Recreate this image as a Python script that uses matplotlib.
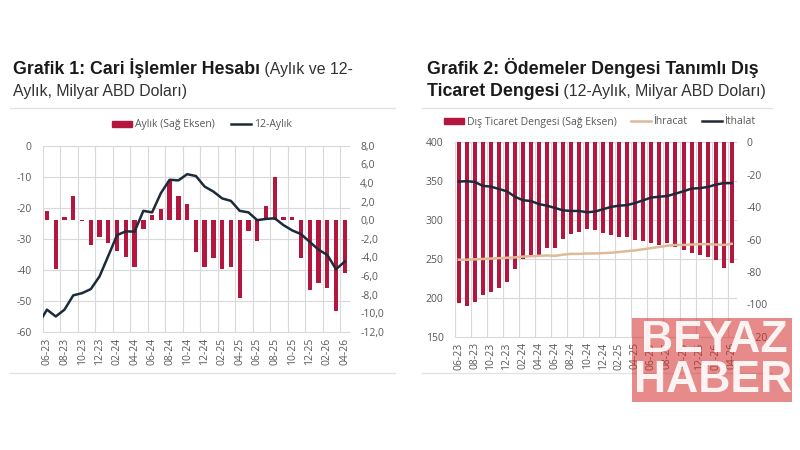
import numpy as np
import matplotlib
matplotlib.use("Agg")
import matplotlib.pyplot as plt
from matplotlib.patches import Rectangle, Patch
from matplotlib.lines import Line2D

plt.rcParams["axes.unicode_minus"] = False

# ---------------- data ----------------
months = ["06-23", "07-23", "08-23", "09-23", "10-23", "11-23", "12-23",
          "01-24", "02-24", "03-24", "04-24", "05-24", "06-24", "07-24",
          "08-24", "09-24", "10-24", "11-24", "12-24", "01-25", "02-25",
          "03-25", "04-25", "05-25", "06-25", "07-25", "08-25", "09-25",
          "10-25", "11-25", "12-25", "01-26", "02-26", "03-26", "04-26"]

# Grafik 1: monthly current account (right axis, bn USD)
cari_aylik = [1.0, -5.2, 0.3, 2.6, -0.1, -2.7, -1.8, -2.5, -3.3, -4.0,
              -5.0, -0.9, 0.5, 1.2, 4.25, 2.6, 1.7, -3.4, -5.0, -4.1,
              -5.25, -5.0, -8.4, -1.2, -2.2, 1.55, 4.6, 0.35, 0.3, -4.1,
              -7.45, -6.7, -7.3, -9.7, -5.7]
# 12-month rolling current account (left axis), first value = 05-23
cari_12m_months = ["05-23"] + months
cari_12m = [-57.5, -52.8, -55.0, -52.8, -48.2, -47.5, -46.2, -42.1, -35.5,
            -28.8, -27.6, -27.7, -21.0, -21.5, -15.3, -11.0, -11.2, -9.2,
            -9.8, -13.2, -14.8, -17.0, -17.8, -21.0, -21.5, -24.0, -23.6,
            -23.4, -25.6, -27.3, -28.5, -31.0, -33.5, -35.2, -39.8, -37.3]

# Grafik 2: 12-month trade balance (right axis), exports & imports (left axis)
dis_ticaret = [-99.5, -101.0, -98.4, -94.3, -92.7, -90.1, -86.4, -78.2,
               -72.2, -70.4, -70.0, -65.4, -65.4, -59.9, -56.8, -55.2,
               -53.5, -54.1, -56.2, -57.2, -58.3, -58.3, -60.3, -60.7,
               -62.3, -63.4, -62.0, -64.4, -66.5, -68.1, -69.6, -70.6,
               -72.7, -77.4, -74.3]
ihracat = [249.0, 249.0, 249.5, 250.0, 250.5, 251.0, 251.5, 252.0, 253.0,
           253.5, 254.0, 254.5, 254.0, 255.5, 256.5, 256.5, 257.0, 257.0,
           257.5, 258.0, 259.0, 260.0, 261.0, 262.5, 264.0, 265.5, 267.0,
           268.0, 268.0, 268.5, 269.0, 269.0, 268.5, 268.0, 269.5]
ithalat = [349.5, 350.0, 349.0, 344.0, 343.0, 340.0, 337.0, 330.0, 325.5,
           324.5, 320.5, 318.5, 315.5, 312.5, 311.7, 311.7, 310.0, 311.0,
           314.0, 317.0, 318.5, 319.3, 322.0, 325.5, 329.0, 330.0, 331.0,
           334.0, 337.0, 340.5, 341.0, 342.5, 345.5, 347.5, 347.5]

title1_bold = "Grafik 1: Cari İşlemler Hesabı"
title1_rest1 = " (Aylık ve 12-"
title1_line2 = "Aylık, Milyar ABD Doları)"
title2_line1 = "Grafik 2: Ödemeler Dengesi Tanımlı Dış"
title2_bold2 = "Ticaret Dengesi"
title2_rest2 = " (12-Aylık, Milyar ABD Doları)"

# ---------------- style ----------------
BAR = "#B3163E"
NAVY = "#1D2A3A"
TAN = "#DDBB98"
GRID = "#D9D9D9"
TXT = "#595959"
TFONT = "Liberation Sans"
LFONT = "Open Sans"

W, H = 800, 450
fig = plt.figure(figsize=(8, 4.5), dpi=100)
fig.patch.set_facecolor("white")


def fx(px):
    return px / W


def fy(py):
    return 1 - py / H


def style_axes(ax_bar, ax_line, n):
    x = np.arange(n)
    ax_bar.set_xlim(-0.5, n - 0.5)
    ax_bar.set_xticks(x[::2])
    ax_bar.set_xticklabels(months[::2], rotation=90, fontsize=7.5,
                           color=TXT, family=LFONT)
    ax_bar.set_xticks(np.arange(-0.5, n, 2), minor=True)
    ax_bar.xaxis.grid(True, which="minor", color=GRID, lw=0.8)
    ax_bar.xaxis.grid(False, which="major")
    ax_bar.tick_params(axis="x", which="both", length=0, pad=4)
    for a in (ax_bar, ax_line):
        for s in a.spines.values():
            s.set_visible(False)
        a.tick_params(axis="y", length=0, pad=8, labelsize=7.5,
                      labelcolor=TXT)
        for lab in a.get_yticklabels():
            lab.set_family(LFONT)
    ax_bar.set_axisbelow(True)
    ax_line.patch.set_visible(False)


def hgrid(ax_bar, ax_line, ticks):
    lo, hi = ax_line.get_ylim()
    for t in ticks:
        f = (t - lo) / (hi - lo)
        ax_bar.plot([0, 1], [f, f], transform=ax_bar.transAxes,
                    color=GRID, lw=0.8, zorder=0.5, clip_on=False)


# ---------------- Grafik 1 ----------------
ax1 = fig.add_axes([fx(42.6), fy(332), fx(306.6), (332 - 145.6) / H])
ax1b = ax1.twinx()
n = len(months)
xb = np.arange(n)
ax1.bar(xb, cari_aylik, width=0.5, color=BAR, zorder=2)
ax1.set_ylim(-12, 8)
ticks_r1 = np.arange(-12, 8.1, 2)
ax1.set_yticks(ticks_r1)
ax1.set_yticklabels([f"{v:.1f}".replace(".", ",") for v in ticks_r1])
ax1.yaxis.set_ticks_position("right")
x_line = np.arange(len(cari_12m)) - 1
ax1b.plot(x_line, cari_12m, color=NAVY, lw=1.8, zorder=3)
ax1b.set_ylim(-60, 0)
ax1b.set_yticks(np.arange(-60, 1, 10))
ax1b.yaxis.set_ticks_position("left")
ax1b.set_xlim(-0.5, n - 0.5)
style_axes(ax1, ax1b, n)
hgrid(ax1, ax1b, np.arange(-60, 1, 10))

fig.legend(handles=[Patch(color=BAR, label="Aylık (Sağ Eksen)"),
                    Line2D([], [], color=NAVY, lw=1.8, label="12-Aylık")],
           loc="center", bbox_to_anchor=(fx(202), fy(125)), ncol=2,
           frameon=False, prop={"family": LFONT, "size": 7.5},
           handlelength=1.9, handleheight=0.6, columnspacing=1.6,
           handletextpad=0.25, labelcolor=TXT)

# ---------------- Grafik 2 ----------------
ax2 = fig.add_axes([fx(454.7), fy(336.7), fx(281), (336.7 - 142.3) / H])
ax2b = ax2.twinx()
ax2.bar(xb, dis_ticaret, width=0.5, color=BAR, zorder=2)
ax2.set_ylim(-120, 0)
ax2.set_yticks(np.arange(-120, 1, 20))
ax2.yaxis.set_ticks_position("right")
ax2b.plot(xb, ihracat, color=TAN, lw=1.8, zorder=3)
ax2b.plot(xb, ithalat, color=NAVY, lw=1.8, zorder=3)
ax2b.set_ylim(150, 400)
ax2b.set_yticks(np.arange(150, 401, 50))
ax2b.yaxis.set_ticks_position("left")
ax2b.set_xlim(-0.5, n - 0.5)
style_axes(ax2, ax2b, n)
hgrid(ax2, ax2b, np.arange(150, 401, 50))

fig.legend(handles=[Patch(color=BAR, label="Dış Ticaret Dengesi (Sağ Eksen)"),
                    Line2D([], [], color=TAN, lw=1.8, label="İhracat"),
                    Line2D([], [], color=NAVY, lw=1.8, label="İthalat")],
           loc="center", bbox_to_anchor=(fx(600), fy(122)), ncol=3,
           frameon=False, prop={"family": LFONT, "size": 7.5},
           handlelength=1.9, handleheight=0.6, columnspacing=1.4,
           handletextpad=0.25, labelcolor=TXT)

# ---------------- titles ----------------
renderer = fig.canvas.get_renderer()
BOLD_SIZE = 12.8
REG_SIZE = 11.4


def inline(x_px, y_px, bold_txt, reg_txt):
    t = fig.text(fx(x_px), fy(y_px), bold_txt, family=TFONT, weight="bold",
                 size=BOLD_SIZE, color="#1A1A1A", va="baseline")
    bb = t.get_window_extent(renderer)
    if reg_txt:
        fig.text(bb.x1 / W, fy(y_px), reg_txt, family=TFONT, size=REG_SIZE,
                 color="#333333", va="baseline")


inline(13, 74, title1_bold, title1_rest1)
fig.text(fx(13), fy(96), title1_line2, family=TFONT, size=REG_SIZE,
         color="#333333", va="baseline")
inline(427, 74, title2_line1, "")
inline(427, 96, title2_bold2, title2_rest2)

# separator lines
for (x0, x1) in [(10, 395), (422, 772)]:
    for yy in (108, 373):
        fig.add_artist(Line2D([fx(x0), fx(x1)], [fy(yy), fy(yy)],
                              color="#E3E3E3", lw=1.0))

# ---------------- watermark ----------------
fig.add_artist(Rectangle((fx(632), fy(402)), fx(160), 84 / H,
                         transform=fig.transFigure, color="#D42A2A",
                         alpha=0.55, zorder=10, lw=0))
fig.text(fx(714), fy(340), "BEYAZ", family=TFONT, weight="bold", size=32,
         color="white", alpha=0.9, ha="center", va="center", zorder=11)
fig.text(fx(713), fy(380), "HABER", family=TFONT, weight="bold", size=32,
         color="white", alpha=0.9, ha="center", va="center", zorder=11)

fig.savefig("out.png", dpi=100, facecolor="white")
